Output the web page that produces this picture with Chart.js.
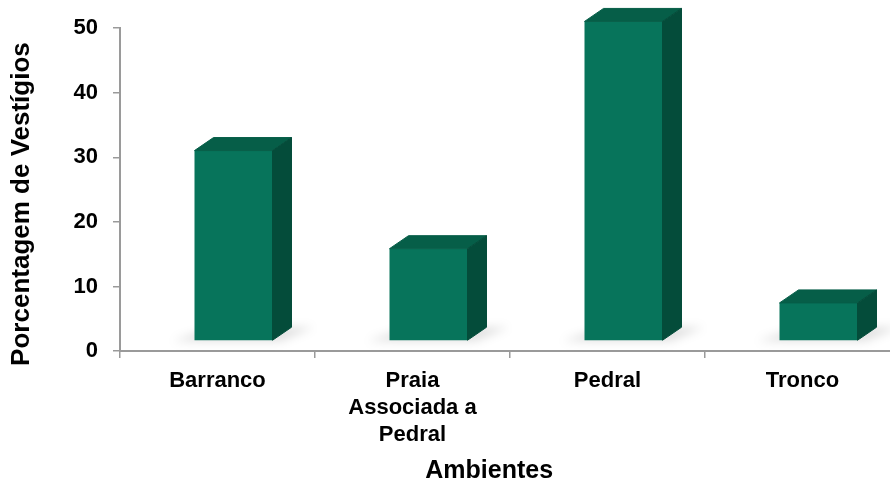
<!DOCTYPE html>
<html>
<head>
<meta charset="utf-8">
<script src="https://cdn.jsdelivr.net/npm/chart.js@4"></script>
<style>
  html, body { margin: 0; padding: 0; background: #fff; overflow: hidden; }
  #wrap { width: 890px; height: 484px; overflow: hidden; }
</style>
</head>
<body>
<div id="wrap"><canvas id="grafico" width="900" height="484"></canvas></div>
<script>
// dados
const ambientes = ["Barranco", ["Praia", "Associada a", "Pedral"], "Pedral", "Tronco"];
const porcentagens = [29.5, 14.3, 49.5, 5.9];
const ticksY = [0, 10, 20, 30, 40, 50];

const corFrente = "#07745b";
const corTopo = "#065e48";
const corLado = "#044c3a";
const cinzaEixo = "#9a9a9a";
const fonte = "'Liberation Sans', Arial, sans-serif";

// deslocamento da face da frente e profundidade do efeito 3D
const desloc = { x: 16, y: -10 };
const prof = { x: 19, y: -13 };

const barras3d = {
  id: "barras3d",
  beforeDatasetsDraw(chart) {
    const ctx = chart.ctx;
    const meta = chart.getDatasetMeta(0);
    // sombra no chão
    ctx.save();
    ctx.filter = "blur(5px)";
    ctx.fillStyle = "rgba(0,0,0,0.12)";
    meta.data.forEach((bar) => {
      const l = bar.x - bar.width / 2 + desloc.x;
      const r = bar.x + bar.width / 2 + desloc.x;
      const b = bar.base + desloc.y;
      ctx.beginPath();
      ctx.moveTo(l - 22, b + 1);
      ctx.lineTo(r + 8, b + 1);
      ctx.lineTo(r + prof.x + 22, b + prof.y);
      ctx.lineTo(l + prof.x, b + prof.y);
      ctx.closePath();
      ctx.fill();
    });
    ctx.restore();
    ctx.save();
    ctx.translate(desloc.x, desloc.y);
  },
  afterDatasetsDraw(chart) {
    const ctx = chart.ctx;
    const meta = chart.getDatasetMeta(0);
    ctx.lineJoin = "round";
    ctx.lineWidth = 1;
    meta.data.forEach((bar) => {
      const l = bar.x - bar.width / 2;
      const r = bar.x + bar.width / 2;
      const t = bar.y;
      const b = bar.base;
      // topo
      ctx.beginPath();
      ctx.moveTo(l, t);
      ctx.lineTo(r, t);
      ctx.lineTo(r + prof.x, t + prof.y);
      ctx.lineTo(l + prof.x, t + prof.y);
      ctx.closePath();
      ctx.fillStyle = corTopo;
      ctx.strokeStyle = corTopo;
      ctx.fill();
      ctx.stroke();
      // lado
      ctx.beginPath();
      ctx.moveTo(r, t);
      ctx.lineTo(r + prof.x, t + prof.y);
      ctx.lineTo(r + prof.x, b + prof.y);
      ctx.lineTo(r, b);
      ctx.closePath();
      ctx.fillStyle = corLado;
      ctx.strokeStyle = corLado;
      ctx.fill();
      ctx.stroke();
    });
    ctx.restore();
  }
};

const config = {
  type: "bar",
  data: {
    labels: ambientes,
    datasets: [
      {
        data: porcentagens,
        backgroundColor: corFrente,
        borderWidth: 0,
        barPercentage: 0.4,
        categoryPercentage: 1,
        clip: false,
      },
    ],
  },
  options: {
    responsive: false,
    animation: false,
    layout: { padding: { top: 26, right: 0, bottom: 0, left: 0 } },
    plugins: {
      legend: { display: false },
      tooltip: { enabled: false },
    },
    scales: {
      x: {
        grid: {
          drawOnChartArea: false,
          drawTicks: true,
          tickLength: 7,
          color: cinzaEixo,
          lineWidth: 1.5,
          offset: true,
        },
        border: { display: true, color: cinzaEixo, width: 2 },
        ticks: {
          color: "#000",
          font: { family: fonte, size: 22, weight: "bold", lineHeight: 1.23 },
          padding: 9,
          maxRotation: 0,
          autoSkip: false,
        },
        title: {
          display: true,
          text: "Ambientes" + "\u00a0".repeat(6),
          color: "#000",
          font: { family: fonte, size: 25, weight: "bold", lineHeight: 1 },
          padding: 0,
        },
        afterFit(scale) {
          scale.height = 133;
        },
      },
      y: {
        min: 0,
        max: 50,
        afterBuildTicks(scale) {
          scale.ticks = ticksY.map((v) => ({ value: v }));
        },
        grid: {
          drawOnChartArea: false,
          drawTicks: true,
          tickLength: 7,
          color: cinzaEixo,
          lineWidth: 1.5,
        },
        border: { display: true, color: cinzaEixo, width: 2 },
        ticks: {
          color: "#000",
          font: { family: fonte, size: 22, weight: "bold" },
          padding: 15,
        },
        title: {
          display: true,
          text: "Porcentagem de Vestígios" + "\u00a0".repeat(4),
          color: "#000",
          font: { family: fonte, size: 26, weight: "bold", lineHeight: 1.2 },
          padding: { top: 6, bottom: 0 },
        },
        afterFit(scale) {
          scale.width = 120;
        },
      },
    },
  },
  plugins: [barras3d],
};

new Chart(document.getElementById("grafico"), config);
</script>
</body>
</html>
